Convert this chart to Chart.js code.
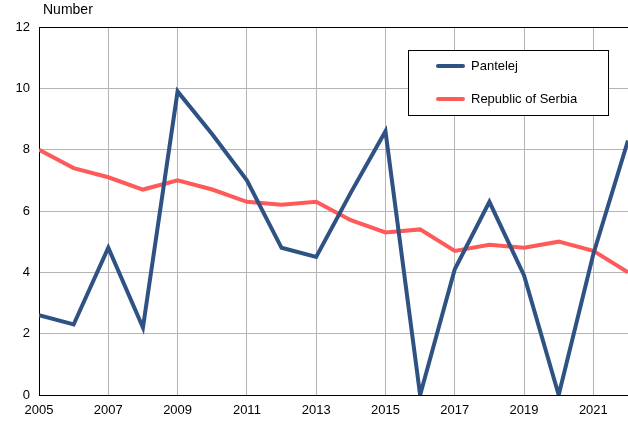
<!DOCTYPE html>
<html><head><meta charset="utf-8">
<script src="https://cdn.jsdelivr.net/npm/chart.js@4/dist/chart.umd.min.js"></script>
<style>html,body{margin:0;padding:0;background:#fff;}#wrap{width:628px;height:425px;position:relative;}</style>
</head><body><div id="wrap"><canvas id="c" width="628" height="425"></canvas></div>
<script>
const years = [2005,2006,2007,2008,2009,2010,2011,2012,2013,2014,2015,2016,2017,2018,2019,2020,2021,2022];
const pantelej = [2.6,2.3,4.8,2.2,9.9,8.5,7.0,4.8,4.5,6.6,8.6,0,4.1,6.3,3.9,0,4.6,8.3];
const serbia = [8.0,7.4,7.1,6.7,7.0,6.7,6.3,6.2,6.3,5.7,5.3,5.4,4.7,4.9,4.8,5.0,4.7,4.0];
const xTicks = [2005,2007,2009,2011,2013,2015,2017,2019,2021];
const yTicks = [0,2,4,6,8,10,12];
const seriesNames = ['Pantelej','Republic of Serbia'];
const seriesColors = ['#2e5283','#ff5a5a'];
const yAxisTitle = 'Number';

const FONT = {family:'"Liberation Sans", Arial, sans-serif', size:13};

const extras = {
  id:'extras',
  afterDraw(chart){
    const ctx = chart.ctx;
    ctx.save();
    ctx.font = '14px "Liberation Sans", Arial, sans-serif';
    ctx.fillStyle = '#000';
    ctx.textBaseline = 'middle';
    ctx.textAlign = 'left';
    ctx.fillText(yAxisTitle, 43, 10.5);
    ctx.font = '13px "Liberation Sans", Arial, sans-serif';
    // legend box
    const bx = 408.5, by = 50.5, bw = 200, bh = 65;
    ctx.fillStyle = '#fff';
    ctx.fillRect(bx, by, bw, bh);
    ctx.strokeStyle = '#000';
    ctx.lineWidth = 1;
    ctx.strokeRect(bx, by, bw, bh);
    chart.data.datasets.forEach((ds, i) => {
      const yy = 66 + i*33;
      ctx.strokeStyle = ds.borderColor;
      ctx.lineWidth = 4;
      ctx.lineCap = 'round';
      ctx.beginPath(); ctx.moveTo(438, yy); ctx.lineTo(463, yy); ctx.stroke();
      ctx.fillStyle = '#000';
      ctx.fillText(ds.label, 471, yy);
    });
    ctx.restore();
  }
};

new Chart(document.getElementById('c'), {
  type:'line',
  data:{
    datasets:[
      {label:seriesNames[0], data:years.map((y,i)=>({x:y,y:pantelej[i]})), borderColor:seriesColors[0], backgroundColor:seriesColors[0], borderWidth:4, pointRadius:0, tension:0, fill:false},
      {label:seriesNames[1], data:years.map((y,i)=>({x:y,y:serbia[i]})), borderColor:seriesColors[1], backgroundColor:seriesColors[1], borderWidth:4, pointRadius:0, tension:0, fill:false}
    ]
  },
  options:{
    responsive:false, animation:false, devicePixelRatio:1,
    layout:{padding:{top:27,left:0,right:0,bottom:0}},
    plugins:{legend:{display:false}, tooltip:{enabled:false}, title:{display:false}},
    scales:{
      x:{type:'linear', min:years[0], max:years[years.length-1],
        afterBuildTicks:s=>{s.ticks = xTicks.map(v=>({value:v}));},
        afterFit:s=>{s.height = 30;},
        ticks:{font:FONT, color:'#000', padding:8, maxRotation:0, autoSkip:false, callback:v=>String(v)},
        grid:{color:'#b4b4b4', lineWidth:1, drawTicks:false},
        border:{color:'#000', width:1}
      },
      y:{min:0, max:12,
        afterBuildTicks:s=>{s.ticks = yTicks.map(v=>({value:v}));},
        afterFit:s=>{s.width = 39;},
        ticks:{font:FONT, color:'#000', padding:9, callback:v=>String(v)},
        grid:{color:c=>(c.tick && c.tick.value===12)?'#000':'#b4b4b4', lineWidth:1, drawTicks:false},
        border:{color:'#000', width:1}
      }
    }
  },
  plugins:[extras]
});
</script></body></html>
